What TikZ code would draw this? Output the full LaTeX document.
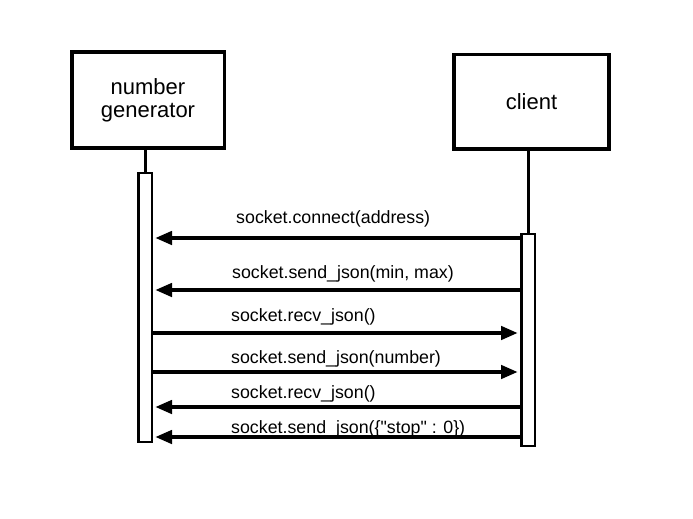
\documentclass[tikz,border=0pt]{standalone}
\usepackage{fontspec}
\setmainfont{Liberation Sans}
\usetikzlibrary{arrows.meta}
\tikzset{
    actor/.style={draw,line width=3.5pt,align=center,font=\fontsize{22}{23}\selectfont},
    activity/.style={draw,line width=2.5pt,minimum width=13.5pt},
    life/.style={line width=3pt},
    msg/.style={line width=4.5pt,-{Triangle[length=17pt,width=13pt]},shorten >=2pt},
    msglabel/.style={anchor=base west,inner sep=0pt,font=\fontsize{17.8}{20}\selectfont}
}

\begin{document}
\begin{tikzpicture}[x=1pt,y=-1pt]
                \useasboundingbox (0,0) rectangle (693,519);
                %Boxes
                \node[actor,minimum width=152.5pt,minimum height=96pt] (gen) at (148,100) {number\\generator};
                \node[actor,minimum width=155pt,minimum height=94.5pt] (cli) at (531.5,101.75) {client};
                %Activation bars
                \node[activity,minimum height=268.75pt] (gbar) at (145,307.4) {};
                \node[activity,minimum height=211.75pt] (cbar) at (528,340.1) {};
                %Lifelines
                \draw[life] (gbar.north) -- (gbar.north |- gen.south);
                \draw[life] (cbar.north) -- (cbar.north |- cli.south);
                %Messages
                \coordinate (m1) at (0,238);
                \coordinate (m2) at (0,290);
                \coordinate (m3) at (0,333);
                \coordinate (m4) at (0,372);
                \coordinate (m5) at (0,407);
                \coordinate (m6) at (0,437);
                \draw[msg] (cbar.west |- m1) -- (gbar.east |- m1);
                \draw[msg] (cbar.west |- m2) -- (gbar.east |- m2);
                \draw[msg] (gbar.east |- m3) -- (cbar.west |- m3);
                \draw[msg] (gbar.east |- m4) -- (cbar.west |- m4);
                \draw[msg] (cbar.west |- m5) -- (gbar.east |- m5);
                \draw[msg] (cbar.west |- m6) -- (gbar.east |- m6);
                %Labels
                \node[msglabel] (l1) at (236,223.5) {socket.connect(address)};
                \node[msglabel] (l2) at (232,278.5) {socket.send\_json(min, max)};
                \node[msglabel] (l3) at (231,321.5) {socket.recv\_json()};
                \node[msglabel] (l4) at (231,363.5) {socket.send\_json(number)};
                \node[msglabel] (l5) at (231,398.5) {socket.recv\_json()};
                \node[msglabel] (l6) at (231,433.5) {socket.send\_json(\{\textquotedbl stop\textquotedbl{} : 0\})};
            \end{tikzpicture}
\end{document}
